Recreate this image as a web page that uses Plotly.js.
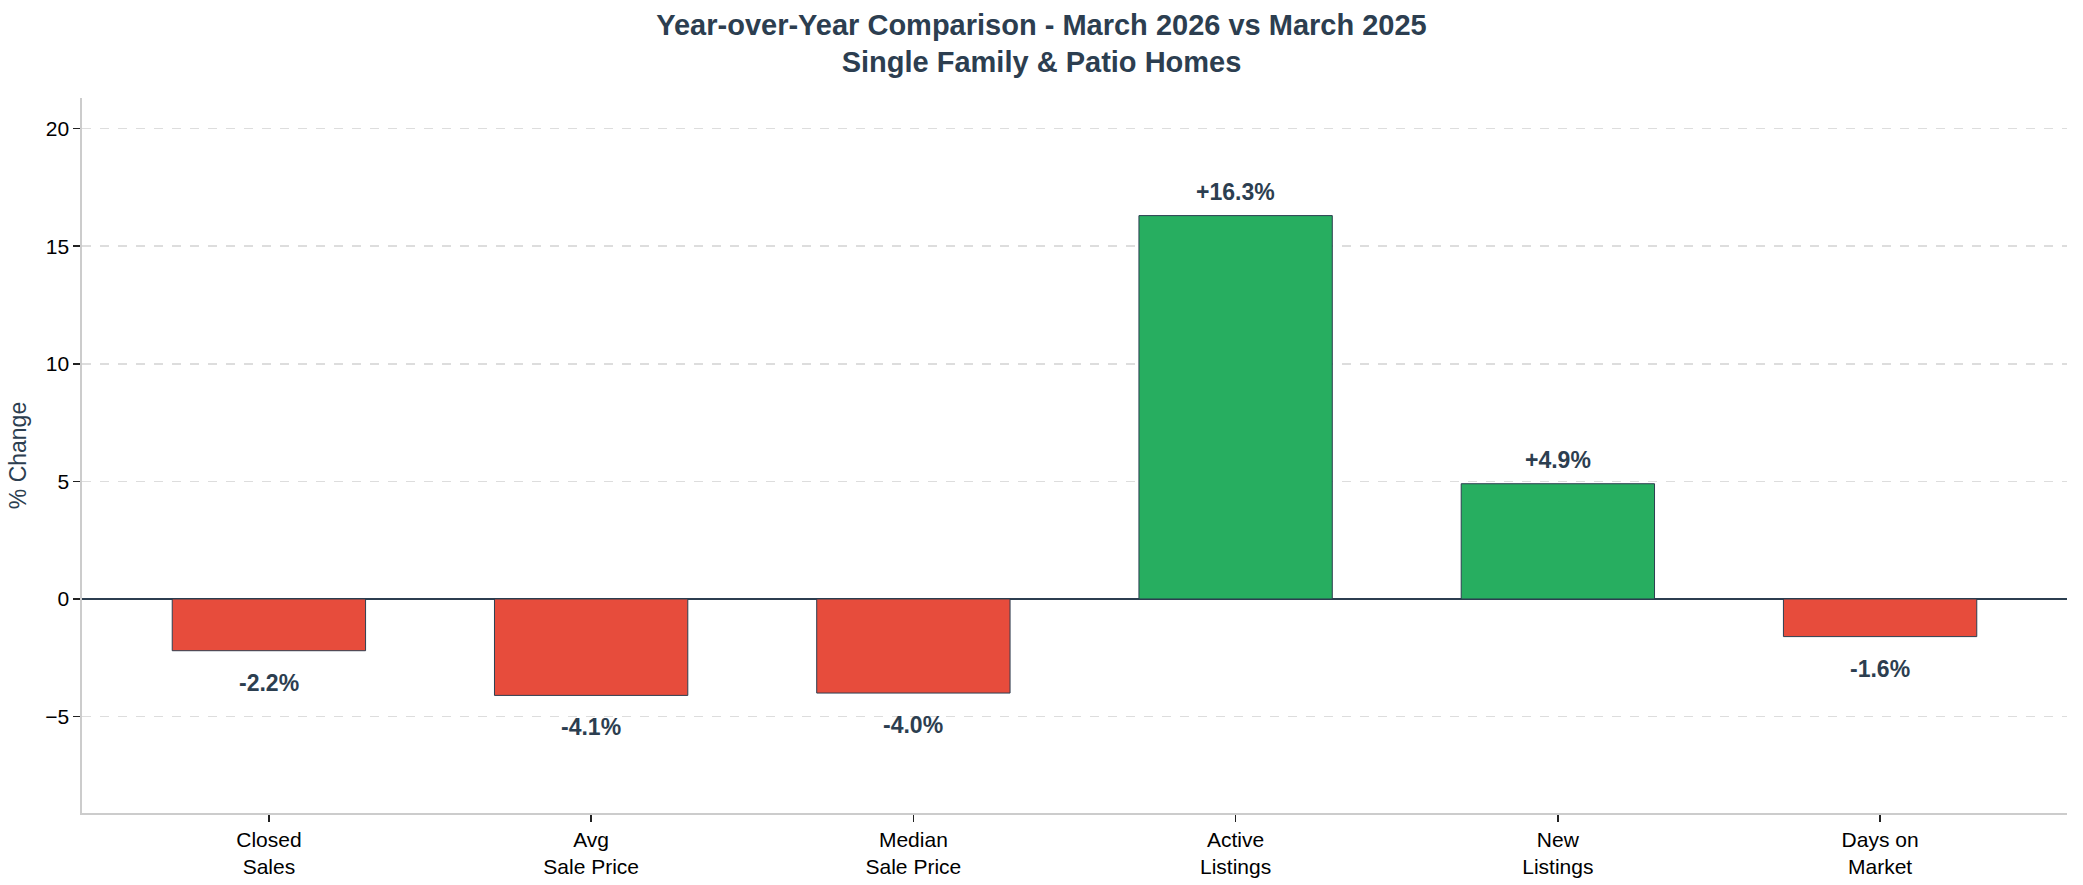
<!DOCTYPE html>
<html>
<head>
<meta charset="utf-8">
<script src="https://cdn.plot.ly/plotly-3.0.1.min.js"></script>
<style>
  html, body { margin: 0; padding: 0; background: #ffffff; }
  #chart { width: 2083px; height: 885px; }
</style>
</head>
<body>
<div id="chart"></div>
<script>
// YoY % change, March 2026 vs March 2025
const categories = [
  "Closed<br>Sales",
  "Avg<br>Sale Price",
  "Median<br>Sale Price",
  "Active<br>Listings",
  "New<br>Listings",
  "Days on<br>Market",
];
const pctChange = [-2.2, -4.1, -4.0, 16.3, 4.9, -1.6];
const yTicks = [-5, 0, 5, 10, 15, 20];

const DARK = "#2c3e50";
const RED = "#e74c3c";
const GREEN = "#27ae60";
const FONT = "Liberation Sans, Arial, sans-serif";

const barColors = pctChange.map((v) => (v >= 0 ? GREEN : RED));

const fmtPct = (v) => (v > 0 ? "+" : "") + v.toFixed(1) + "%";

// value labels: above positive bars, below negative ones
const labels = pctChange.map((v, i) => ({
  x: categories[i],
  y: v,
  xref: "x",
  yref: "y",
  text: "<b>" + fmtPct(v) + "</b>",
  showarrow: false,
  yanchor: v >= 0 ? "bottom" : "top",
  yshift: v >= 0 ? 9 : -17,
  font: { family: FONT, size: 23, color: DARK },
}));

const trace = {
  type: "bar",
  x: categories,
  y: pctChange,
  width: 0.6,
  marker: { color: barColors, line: { color: DARK, width: 1 } },
  hoverinfo: "skip",
  showlegend: false,
};

const yMin = Math.min(...pctChange) - 5;
const yMax = Math.max(...pctChange) + 5;

const layout = {
  width: 2083,
  height: 885,
  paper_bgcolor: "#ffffff",
  plot_bgcolor: "#ffffff",
  margin: { l: 82, r: 16, t: 98, b: 72 },
  font: { family: FONT, color: "#000000" },
  title: {
    text:
      "<b>Year-over-Year Comparison - March 2026 vs March 2025</b><br>" +
      "<b>Single Family &amp; Patio Homes</b>",
    font: { family: FONT, size: 29, color: DARK },
    x: 0.5,
    xanchor: "center",
    y: 0.961,
    yanchor: "top",
  },
  xaxis: {
    type: "category",
    range: [-0.58, 5.58],
    showgrid: false,
    zeroline: false,
    showline: true,
    linecolor: "#cccccc",
    linewidth: 1.6,
    ticks: "outside",
    ticklen: 7,
    tickwidth: 1.5,
    tickcolor: "#222222",
    tickfont: { family: FONT, size: 21, color: "#000000" },
  },
  yaxis: {
    range: [yMin, yMax],
    tickmode: "array",
    tickvals: yTicks,
    showgrid: true,
    gridcolor: "#dddddd",
    gridwidth: 1.5,
    griddash: "dash",
    zeroline: true,
    zerolinecolor: DARK,
    zerolinewidth: 2,
    showline: true,
    linecolor: "#cccccc",
    linewidth: 1.6,
    ticks: "outside",
    ticklen: 7,
    tickwidth: 1.5,
    tickcolor: "#222222",
    tickfont: { family: FONT, size: 21, color: "#000000" },
    title: {
      text: "% Change",
      font: { family: FONT, size: 23, color: DARK },
      standoff: 12,
    },
  },
  annotations: labels,
  bargap: 0.4,
};

Plotly.newPlot("chart", [trace], layout, { displayModeBar: false, staticPlot: true });
</script>
</body>
</html>
